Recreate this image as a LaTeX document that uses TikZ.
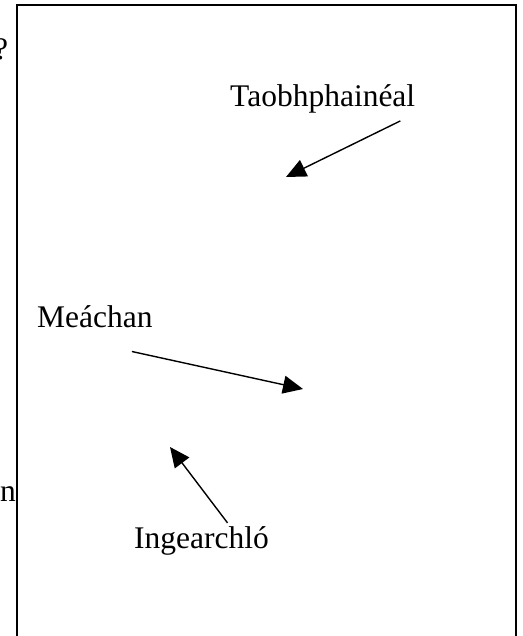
\documentclass[tikz,border=0pt]{standalone}
\usepackage{fontspec}
\setmainfont{Liberation Serif}
\usetikzlibrary{arrows.meta}

\begin{document}
\begin{tikzpicture}[x=1pt,y=-1pt,
          label/.style={inner sep=0pt, anchor=base west,
            font=\fontsize{31.5}{38}\selectfont},
          pointer/.style={-{Triangle[length=20pt,width=18pt]}, line width=1.4pt},
          frame/.style={draw=black, line width=2pt}]

        \useasboundingbox (0,0) rectangle (522,636);
        \clip (0,0) rectangle (522,636);

        % cut-off text at the left edge
        \node[label]                (qmark)   at (-6,60)  {?};
        \node[label, anchor=base east] (tailon) at (16,501) {on};

        % page outline
        \draw[frame] (16.5,650) -- (16.5,5) -- (516,5) -- (516,650);

        \node[label] (lbltaobh) at (230,107) {Taobhphainéal};
        \node[label] (lblmeach) at (37,327)  {Meáchan};
        \node[label] (lblinge)  at (134,548) {Ingearchló};

        \coordinate (taobhtip) at (286,177);
        \coordinate (meachtip) at (303,389);
        \coordinate (ingetip)  at (170,447);

        \draw[pointer] (lbltaobh.south east) ++(-15,7)  -- (taobhtip);
        \draw[pointer] (lblmeach.south)      ++(37,24)  -- (meachtip);
        \draw[pointer] (lblinge.north)       ++(26,-3)  -- (ingetip);

      \end{tikzpicture}
\end{document}
